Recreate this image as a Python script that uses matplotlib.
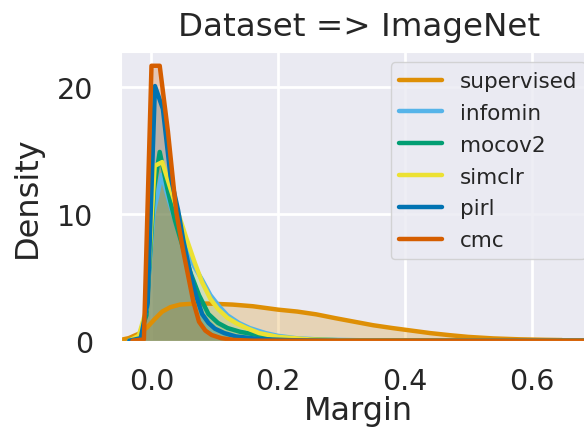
import matplotlib
matplotlib.use("Agg")
import matplotlib.pyplot as plt
import seaborn as sns

sns.set_style("darkgrid")
plt.rcParams['font.family'] = ['DejaVu Sans']

# density curves (margin value, density)
supervised_x = [-0.05, -0.036, -0.02, -0.007, 0.005, 0.017, 0.03, 0.045, 0.065, 0.09, 0.128, 0.16,
                0.2, 0.23, 0.26, 0.29, 0.32, 0.35, 0.38, 0.41, 0.44, 0.47, 0.5, 0.54, 0.58, 0.62, 0.648]
supervised_y = [0.05, 0.2, 0.55, 1.05, 1.7, 2.3, 2.65, 2.85, 2.92, 2.93, 2.85, 2.72,
                2.45, 2.3, 2.08, 1.78, 1.5, 1.22, 1.0, 0.8, 0.6, 0.44, 0.3, 0.18, 0.11, 0.07, 0.05]

infomin_x = [-0.035, -0.02, -0.009, 0.003, 0.016, 0.029, 0.041, 0.054, 0.067, 0.08, 0.093, 0.107,
             0.12, 0.138, 0.155, 0.18, 0.2, 0.228, 0.27, 0.35, 0.75]
infomin_y = [0, 0.3, 2.0, 10.0, 13.1, 10.8, 8.9, 7.3, 5.9, 4.8, 3.6, 2.7,
             2.0, 1.4, 1.0, 0.6, 0.38, 0.2, 0.08, 0.02, 0]

mocov2_x = [-0.035, -0.02, -0.008, 0.004, 0.013, 0.025, 0.037, 0.05, 0.062, 0.075, 0.09, 0.105,
            0.12, 0.14, 0.18, 0.23, 0.3, 0.75]
mocov2_y = [0, 0.3, 2.0, 12.0, 14.9, 12.0, 9.5, 7.3, 5.3, 3.6, 2.1, 1.4,
            1.0, 0.7, 0.34, 0.12, 0.03, 0]

simclr_x = [-0.035, -0.02, -0.008, 0.005, 0.017, 0.03, 0.042, 0.055, 0.068, 0.08, 0.093, 0.105,
            0.12, 0.135, 0.15, 0.17, 0.2, 0.25, 0.3, 0.75]
simclr_y = [0, 0.4, 2.5, 13.8, 14.1, 12.0, 10.1, 8.1, 6.2, 4.6, 3.3, 2.5,
            1.8, 1.35, 1.0, 0.6, 0.3, 0.1, 0.03, 0]

pirl_x = [-0.035, -0.017, -0.006, 0.0055, 0.018, 0.03, 0.042, 0.05, 0.06, 0.07, 0.08, 0.09,
          0.1, 0.115, 0.133, 0.17, 0.22, 0.3, 0.75]
pirl_y = [0, 0.2, 3.0, 20.1, 18.3, 13.0, 10.3, 8.0, 5.6, 3.6, 2.1, 1.4,
          0.95, 0.6, 0.34, 0.13, 0.04, 0, 0]

cmc_x = [-0.03, -0.012, 0.0, 0.013, 0.026, 0.039, 0.05, 0.058, 0.066, 0.075, 0.085, 0.095,
         0.11, 0.13, 0.16, 0.75]
cmc_y = [0, 0.1, 21.7, 21.7, 16.5, 10.2, 7.1, 5.1, 3.1, 1.5, 0.8, 0.45,
         0.2, 0.06, 0, 0]

methods = ["supervised", "infomin", "mocov2", "simclr", "pirl", "cmc"]
colors = ["#DE8F05", "#56B4E9", "#029E73", "#ECE133", "#0173B2", "#D55E00"]
curves = [(supervised_x, supervised_y), (infomin_x, infomin_y), (mocov2_x, mocov2_y),
          (simclr_x, simclr_y), (pirl_x, pirl_y), (cmc_x, cmc_y)]

fig = plt.figure(figsize=(5.84, 4.39), dpi=100)
# axes runs a bit past the right edge of the picture, like the reference
ax = fig.add_axes([120.7 / 584, 1 - 341.7 / 439, (596.5 - 120.7) / 584, (341.7 - 52.7) / 439])
ax.grid(True, color="white", linewidth=2)

for name, col, (xs, ys) in zip(methods, colors, curves):
    ax.fill_between(xs, ys, 0, color=col, alpha=0.25, linewidth=0)
    ax.plot(xs, ys, color=col, linewidth=3.2, label=name)

ax.set_xlim(-0.0486, 0.7025)
ax.set_ylim(0, 22.81)
ax.set_xticks([0.0, 0.2, 0.4, 0.6])
ax.set_yticks([0, 10, 20])
ax.tick_params(axis="both", labelsize=20.5, length=0)
ax.tick_params(axis="y", pad=20)
ax.tick_params(axis="x", pad=19)
ax.set_xlabel("Margin", fontsize=23, labelpad=0)
ax.set_ylabel("Density", fontsize=23, labelpad=10)
ax.set_title("Dataset => ImageNet", fontsize=23.4, pad=12)
ax.legend(loc="upper right", fontsize=15.5, frameon=True, labelspacing=0.55)

fig.savefig("out.png", dpi=100)
